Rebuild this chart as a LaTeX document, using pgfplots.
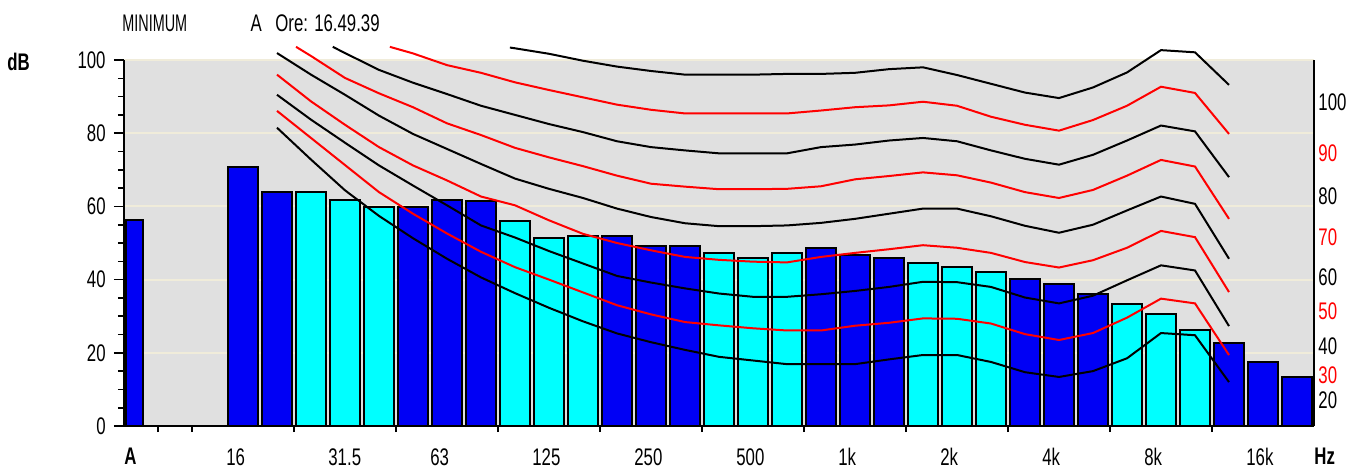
\documentclass[border=0pt]{standalone}
\usepackage{fontspec}
\setmainfont{Liberation Sans}[FakeStretch=0.7]
\newfontfamily\narrowfont{Liberation Sans}[FakeStretch=0.6]
\usepackage{pgfplots}
\pgfplotsset{compat=1.18}
\definecolor{bgray}{RGB}{224,224,224}
\definecolor{gridc}{RGB}{240,236,218}
\definecolor{barblue}{RGB}{0,0,245}
\definecolor{barcyan}{RGB}{0,255,255}
\definecolor{nred}{RGB}{255,0,0}
\begin{document}
\begin{tikzpicture}[font=\fontsize{12}{14}\selectfont]
\path[use as bounding box] (-62pt,-23.5pt) rectangle (618.5pt,213pt);
\begin{axis}[
  at={(0,0)}, anchor=south west,
  scale only axis, width=595pt, height=183pt,
  xmin=-0.5, xmax=34.5, ymin=0, ymax=100,
  axis background/.style={fill=bgray},
  axis x line*=bottom, axis y line*=left,
  axis line style={line width=1pt, black},
  /pgf/number format/assume math mode=true,
  ytick={0,20,40,60,80,100}, minor y tick num=3,
  ymajorgrids, major grid style={gridc, line width=1pt},
  xtick={-0.5,2.5,5.5,8.5,11.5,14.5,17.5,20.5,23.5,26.5,29.5,32.5,34.5},
  xticklabels={\textbf{A},16,31.5,63,125,250,500,1k,2k,4k,8k,16k,\textbf{Hz}},
  minor xtick={0.5,1.5,4.5,7.5,10.5,13.5,16.5,19.5,22.5,25.5,28.5,31.5},
  tick align=outside, major tick length=5pt, minor tick length=3pt,
  every major x tick/.append style={draw=none},
  tick style={black, line width=0.8pt},
  xticklabel style={anchor=north west, inner sep=0pt, yshift=-6pt},
  yticklabel style={anchor=east, inner sep=0pt, xshift=-4pt},
  clip=false,
]
% A-weighted total
\addplot[ybar, bar width=0.5, bar shift=0pt, fill=barblue, draw=black, line width=1pt]
  coordinates {(-0.19,56.2)};
% blue bands
\addplot[ybar, bar width=0.88, bar shift=0pt, fill=barblue, draw=black, line width=1pt]
  coordinates {(3,70.9) (4,64.0) (8,59.8) (9,61.8) (10,61.4) (14,51.9) (15,49.2) (16,49.2)
   (20,48.6) (21,46.8) (22,45.9) (26,40.1) (27,38.7) (28,36.0) (32,22.7) (33,17.5) (34,13.3)};
% cyan bands
\addplot[ybar, bar width=0.88, bar shift=0pt, fill=barcyan, draw=black, line width=1pt]
  coordinates {(5,64.0) (6,61.8) (7,59.8) (11,55.9) (12,51.3) (13,51.9) (17,47.3) (18,45.9)
   (19,47.3) (23,44.6) (24,43.4) (25,42.0) (29,33.4) (30,30.7) (31,26.1)};
% contour 20
\addplot[black, line width=1pt] coordinates {(4,81.5) (5,72.8) (6,64.4) (7,57.4) (8,51.3) (9,45.7) (10,40.6) (11,36.3) (12,32.3) (13,28.6) (14,25.3) (15,22.9) (16,20.8) (17,18.9) (18,17.9) (19,16.9) (20,16.9) (21,16.9) (22,18.2) (23,19.4) (24,19.4) (25,17.5) (26,14.7) (27,13.4) (28,15.0) (29,18.5) (30,25.4) (31,24.8) (32,12.0)};
% contour 30
\addplot[nred, line width=1pt] coordinates {(4,86.1) (5,78.7) (6,71.3) (7,63.9) (8,58.0) (9,52.6) (10,47.6) (11,43.4) (12,40.0) (13,36.5) (14,33.0) (15,30.5) (16,28.4) (17,27.5) (18,26.7) (19,26.1) (20,26.1) (21,27.4) (22,28.2) (23,29.4) (24,29.3) (25,28.0) (26,25.1) (27,23.5) (28,25.4) (29,29.6) (30,34.8) (31,33.5) (32,19.4)};
% contour 40
\addplot[black, line width=1pt] coordinates {(4,90.5) (5,83.7) (6,77.4) (7,71.2) (8,65.7) (9,60.3) (10,54.8) (11,51.5) (12,47.8) (13,44.4) (14,41.0) (15,39.2) (16,37.6) (17,36.2) (18,35.3) (19,35.3) (20,36.0) (21,36.9) (22,38.0) (23,39.4) (24,39.3) (25,38.0) (26,35.1) (27,33.5) (28,35.6) (29,39.8) (30,43.9) (31,42.5) (32,27.3)};
% contour 50
\addplot[nred, line width=1pt] coordinates {(4,96.0) (5,88.7) (6,82.3) (7,76.2) (8,71.2) (9,67.1) (10,62.7) (11,60.3) (12,56.2) (13,52.5) (14,50.0) (15,48.0) (16,46.2) (17,45.4) (18,44.9) (19,44.7) (20,46.2) (21,47.3) (22,48.3) (23,49.4) (24,48.7) (25,47.3) (26,44.8) (27,43.3) (28,45.3) (29,48.7) (30,53.3) (31,51.6) (32,36.6)};
% contour 60
\addplot[black, line width=1pt] coordinates {(4,101.9) (5,96.0) (6,90.5) (7,84.8) (8,79.8) (9,75.7) (10,71.6) (11,67.6) (12,64.8) (13,62.3) (14,59.4) (15,57.1) (16,55.4) (17,54.6) (18,54.6) (19,54.8) (20,55.5) (21,56.6) (22,58.0) (23,59.4) (24,59.4) (25,57.3) (26,54.7) (27,52.8) (28,55.0) (29,58.9) (30,62.7) (31,60.7) (32,45.7)};
% contour 70
\addplot[nred, line width=1pt] coordinates {(4.56,103.6) (5,101.1) (6,95.1) (7,90.9) (8,87.1) (9,82.7) (10,79.5) (11,76.0) (12,73.4) (13,71.0) (14,68.4) (15,66.2) (16,65.4) (17,64.7) (18,64.7) (19,64.8) (20,65.5) (21,67.4) (22,68.3) (23,69.3) (24,68.5) (25,66.5) (26,63.9) (27,62.3) (28,64.5) (29,68.4) (30,72.7) (31,70.9) (32,56.6)};
% contour 80
\addplot[black, line width=1pt] coordinates {(5.64,103.6) (6,101.9) (7,97.3) (8,93.8) (9,90.7) (10,87.5) (11,85.0) (12,82.5) (13,80.3) (14,77.8) (15,76.2) (16,75.3) (17,74.5) (18,74.5) (19,74.5) (20,76.2) (21,76.9) (22,78.0) (23,78.7) (24,77.8) (25,75.3) (26,73.0) (27,71.4) (28,74.1) (29,78.0) (30,82.1) (31,80.5) (32,68.0)};
% contour 90
\addplot[nred, line width=1pt] coordinates {(7.32,103.6) (8,101.8) (9,98.6) (10,96.5) (11,93.9) (12,91.8) (13,89.8) (14,87.8) (15,86.4) (16,85.4) (17,85.4) (18,85.4) (19,85.4) (20,86.2) (21,87.1) (22,87.6) (23,88.6) (24,87.5) (25,84.5) (26,82.3) (27,80.7) (28,83.6) (29,87.5) (30,92.7) (31,91.0) (32,79.8)};
% contour 100
\addplot[black, line width=1pt] coordinates {(10.85,103.4) (11,103.2) (12,101.7) (13,99.8) (14,98.2) (15,97.0) (16,96.0) (17,96.0) (18,96.0) (19,96.2) (20,96.2) (21,96.5) (22,97.5) (23,98.0) (24,95.9) (25,93.5) (26,91.1) (27,89.6) (28,92.5) (29,96.6) (30,102.7) (31,102.1) (32,93.2)};
% right frame line
\draw[black, line width=1pt] (axis cs:34.5,0) -- (axis cs:34.5,100);
% header texts
\node[anchor=west, inner sep=0pt] at (axis cs:-0.56,110) {\narrowfont MINIMUM};
\node[anchor=west, inner sep=0pt] at (axis cs:3.21,110) {A};
\node[anchor=west, inner sep=0pt] at (axis cs:3.94,110) {Ore: 16.49.39};
\node[anchor=west, inner sep=0pt] at (axis cs:-3.94,99.5) {\textbf{dB}};
% contour labels
\node[anchor=west, inner sep=0pt] at (axis cs:34.62,88.4) {100};
\node[anchor=west, inner sep=0pt, text=nred] at (axis cs:34.62,74.4) {90};
\node[anchor=west, inner sep=0pt] at (axis cs:34.62,62.7) {80};
\node[anchor=west, inner sep=0pt, text=nred] at (axis cs:34.62,51.5) {70};
\node[anchor=west, inner sep=0pt] at (axis cs:34.62,40.6) {60};
\node[anchor=west, inner sep=0pt, text=nred] at (axis cs:34.62,31.4) {50};
\node[anchor=west, inner sep=0pt] at (axis cs:34.62,21.8) {40};
\node[anchor=west, inner sep=0pt, text=nred] at (axis cs:34.62,13.9) {30};
\node[anchor=west, inner sep=0pt] at (axis cs:34.62,7.1) {20};
\end{axis}
\end{tikzpicture}
\end{document}
